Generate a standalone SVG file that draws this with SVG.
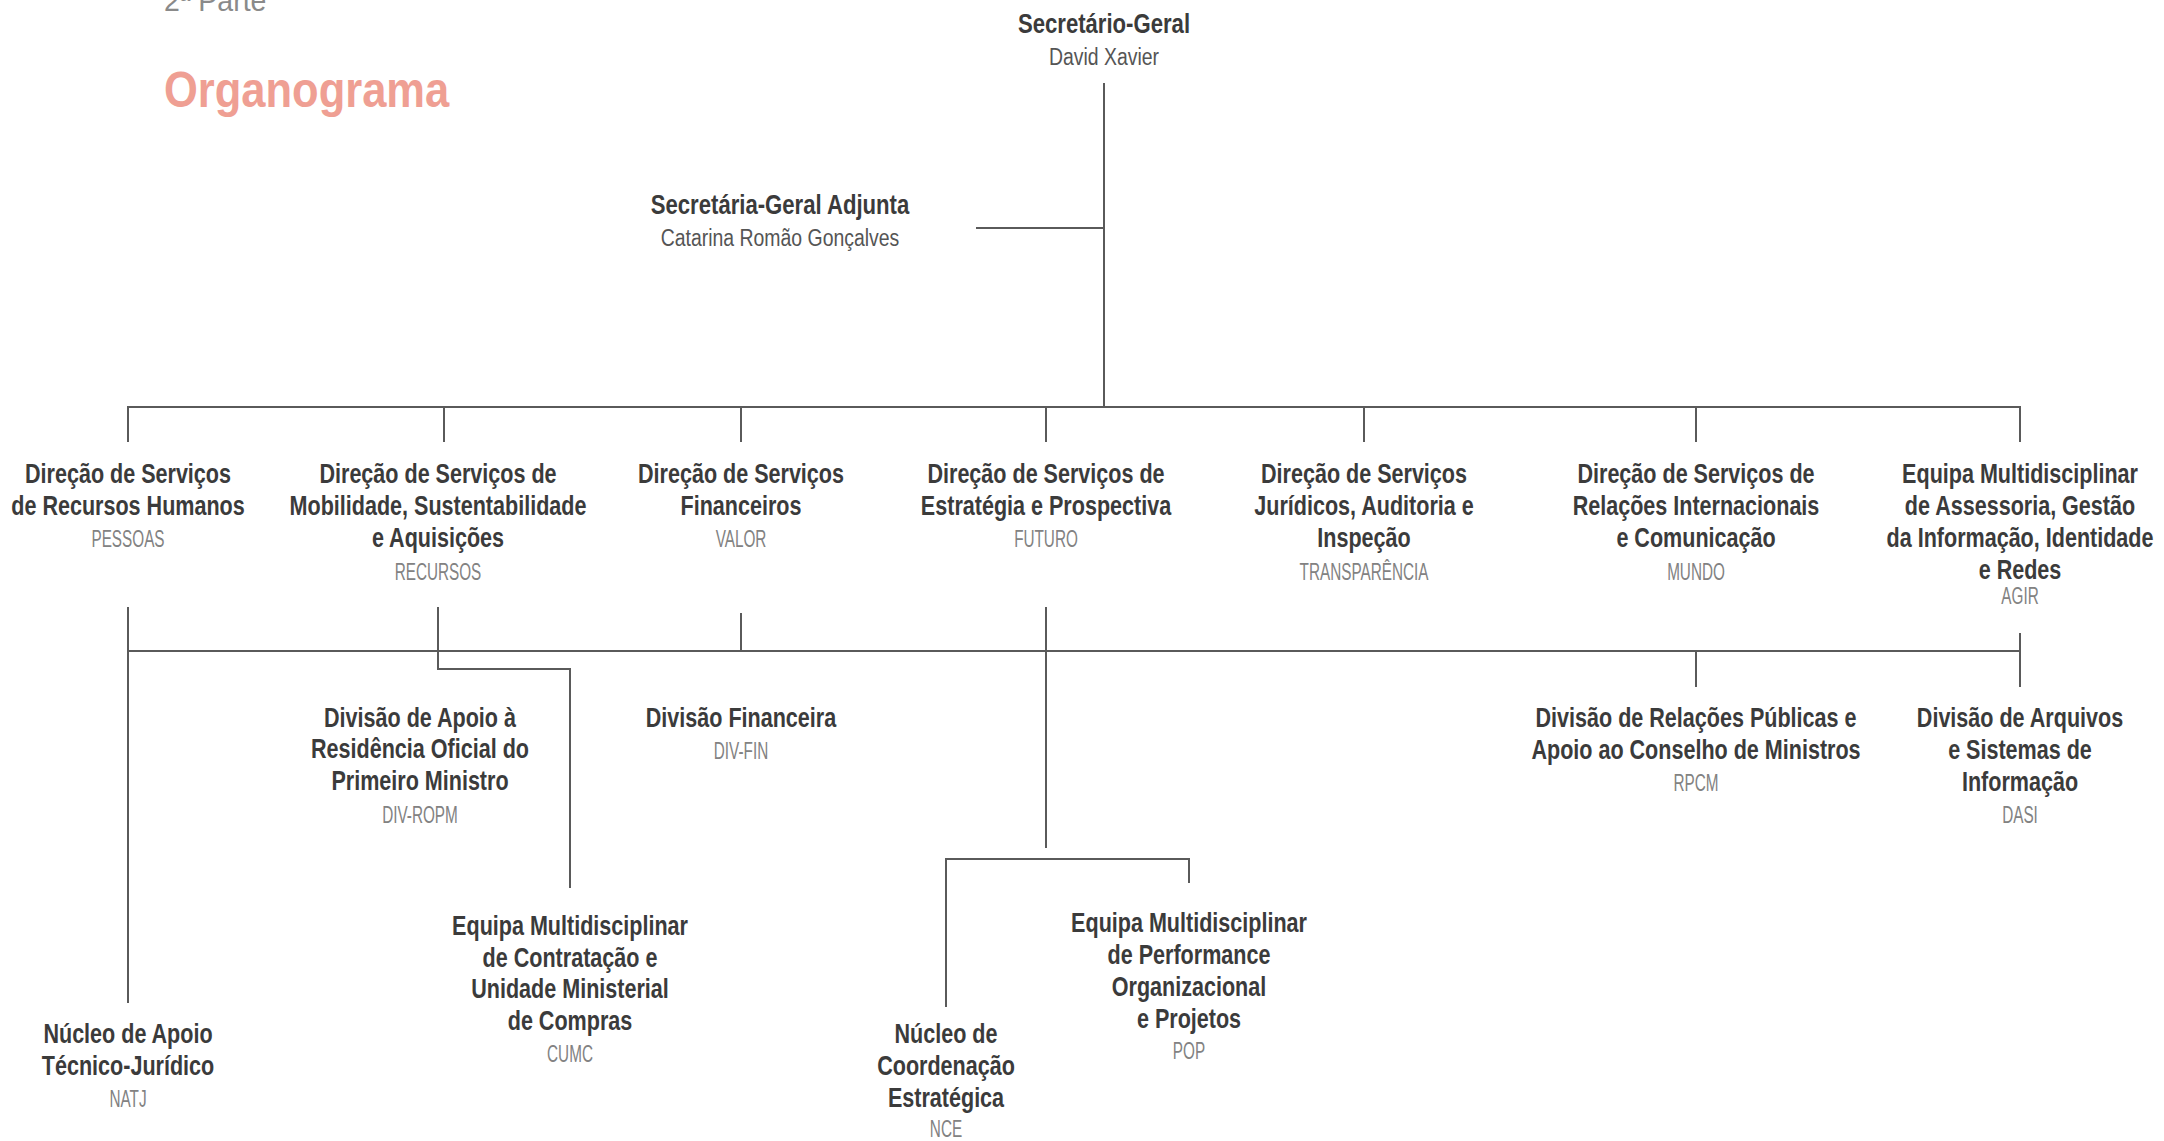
<svg xmlns="http://www.w3.org/2000/svg" width="2164" height="1141" viewBox="0 0 2164 1141">
<style>
text{font-family:"Liberation Sans",Arial,sans-serif;text-anchor:middle}
.b{font-size:28px;font-weight:700;fill:#3b3b3b}
.r{font-size:24px;fill:#555555}
.c{font-size:23px;fill:#828282}
.ttl{font-size:50px;font-weight:700;fill:#EF9F93;text-anchor:start}
.sub{font-size:30px;fill:#8a8a8a;text-anchor:start}
.ln{fill:none;stroke:#5a5a5a;stroke-width:2}
</style>
<rect width="2164" height="1141" fill="#ffffff"/>
<g id="title">
<text class="sub" transform="translate(164 11) scale(0.95 1)">2ª Parte</text>
<text class="ttl" transform="translate(164 107) scale(0.87 1)">Organograma</text>
</g>
<g id="connectors">
<path class="ln" d="M1104 83V407M976 228H1104"/>
<path class="ln" d="M128 442V407H2020V442M444 407V442M741 407V442M1046 407V442M1364 407V442M1696 407V442"/>
<path class="ln" d="M128 607V1003M128 651H2020M438 607V669H570V888M741 613V651M1046 607V848M946 1007V859H1189V883M1696 651V687M2020 633V687"/>
</g>
<g id="sg" transform="translate(1104 0)">
<text class="b" y="33" transform="scale(0.79 1)">Secretário-Geral</text>
<text class="r" y="65" transform="scale(0.81 1)">David Xavier</text>
</g>
<g id="sga" transform="translate(780 0)">
<text class="b" y="214" transform="scale(0.79 1)">Secretária-Geral Adjunta</text>
<text class="r" y="246" transform="scale(0.81 1)">Catarina Romão Gonçalves</text>
</g>
<g id="pessoas" transform="translate(128 0)">
<text class="b" y="483" transform="scale(0.77 1)">Direção de Serviços</text>
<text class="b" y="515" transform="scale(0.77 1)">de Recursos Humanos</text>
<text class="c" y="547" transform="scale(0.665 1)">PESSOAS</text>
</g>
<g id="recursos" transform="translate(438 0)">
<text class="b" y="483" transform="scale(0.77 1)">Direção de Serviços de</text>
<text class="b" y="515" transform="scale(0.77 1)">Mobilidade, Sustentabilidade</text>
<text class="b" y="547" transform="scale(0.77 1)">e Aquisições</text>
<text class="c" y="580" transform="scale(0.665 1)">RECURSOS</text>
</g>
<g id="valor" transform="translate(741 0)">
<text class="b" y="483" transform="scale(0.77 1)">Direção de Serviços</text>
<text class="b" y="515" transform="scale(0.77 1)">Financeiros</text>
<text class="c" y="547" transform="scale(0.665 1)">VALOR</text>
</g>
<g id="futuro" transform="translate(1046 0)">
<text class="b" y="483" transform="scale(0.77 1)">Direção de Serviços de</text>
<text class="b" y="515" transform="scale(0.77 1)">Estratégia e Prospectiva</text>
<text class="c" y="547" transform="scale(0.665 1)">FUTURO</text>
</g>
<g id="transparencia" transform="translate(1364 0)">
<text class="b" y="483" transform="scale(0.77 1)">Direção de Serviços</text>
<text class="b" y="515" transform="scale(0.77 1)">Jurídicos, Auditoria e</text>
<text class="b" y="547" transform="scale(0.77 1)">Inspeção</text>
<text class="c" y="580" transform="scale(0.665 1)">TRANSPARÊNCIA</text>
</g>
<g id="mundo" transform="translate(1696 0)">
<text class="b" y="483" transform="scale(0.77 1)">Direção de Serviços de</text>
<text class="b" y="515" transform="scale(0.77 1)">Relações Internacionais</text>
<text class="b" y="547" transform="scale(0.77 1)">e Comunicação</text>
<text class="c" y="580" transform="scale(0.665 1)">MUNDO</text>
</g>
<g id="agir" transform="translate(2020 0)">
<text class="b" y="483" transform="scale(0.77 1)">Equipa Multidisciplinar</text>
<text class="b" y="515" transform="scale(0.77 1)">de Assessoria, Gestão</text>
<text class="b" y="547" transform="scale(0.77 1)">da Informação, Identidade</text>
<text class="b" y="579" transform="scale(0.77 1)">e Redes</text>
<text class="c" y="604" transform="scale(0.665 1)">AGIR</text>
</g>
<g id="div-ropm" transform="translate(420 0)">
<text class="b" y="727" transform="scale(0.77 1)">Divisão de Apoio à</text>
<text class="b" y="758" transform="scale(0.77 1)">Residência Oficial do</text>
<text class="b" y="790" transform="scale(0.77 1)">Primeiro Ministro</text>
<text class="c" y="823" transform="scale(0.665 1)">DIV-ROPM</text>
</g>
<g id="div-fin" transform="translate(741 0)">
<text class="b" y="727" transform="scale(0.77 1)">Divisão Financeira</text>
<text class="c" y="759" transform="scale(0.665 1)">DIV-FIN</text>
</g>
<g id="rpcm" transform="translate(1696 0)">
<text class="b" y="727" transform="scale(0.77 1)">Divisão de Relações Públicas e</text>
<text class="b" y="759" transform="scale(0.77 1)">Apoio ao Conselho de Ministros</text>
<text class="c" y="791" transform="scale(0.665 1)">RPCM</text>
</g>
<g id="dasi" transform="translate(2020 0)">
<text class="b" y="727" transform="scale(0.77 1)">Divisão de Arquivos</text>
<text class="b" y="759" transform="scale(0.77 1)">e Sistemas de</text>
<text class="b" y="791" transform="scale(0.77 1)">Informação</text>
<text class="c" y="823" transform="scale(0.665 1)">DASI</text>
</g>
<g id="cumc" transform="translate(570 0)">
<text class="b" y="935" transform="scale(0.77 1)">Equipa Multidisciplinar</text>
<text class="b" y="967" transform="scale(0.77 1)">de Contratação e</text>
<text class="b" y="998" transform="scale(0.77 1)">Unidade Ministerial</text>
<text class="b" y="1030" transform="scale(0.77 1)">de Compras</text>
<text class="c" y="1062" transform="scale(0.665 1)">CUMC</text>
</g>
<g id="pop" transform="translate(1189 0)">
<text class="b" y="932" transform="scale(0.77 1)">Equipa Multidisciplinar</text>
<text class="b" y="964" transform="scale(0.77 1)">de Performance</text>
<text class="b" y="996" transform="scale(0.77 1)">Organizacional</text>
<text class="b" y="1028" transform="scale(0.77 1)">e Projetos</text>
<text class="c" y="1059" transform="scale(0.665 1)">POP</text>
</g>
<g id="natj" transform="translate(128 0)">
<text class="b" y="1043" transform="scale(0.77 1)">Núcleo de Apoio</text>
<text class="b" y="1075" transform="scale(0.77 1)">Técnico-Jurídico</text>
<text class="c" y="1107" transform="scale(0.665 1)">NATJ</text>
</g>
<g id="nce" transform="translate(946 0)">
<text class="b" y="1043" transform="scale(0.77 1)">Núcleo de</text>
<text class="b" y="1075" transform="scale(0.77 1)">Coordenação</text>
<text class="b" y="1107" transform="scale(0.77 1)">Estratégica</text>
<text class="c" y="1137" transform="scale(0.665 1)">NCE</text>
</g>
</svg>
